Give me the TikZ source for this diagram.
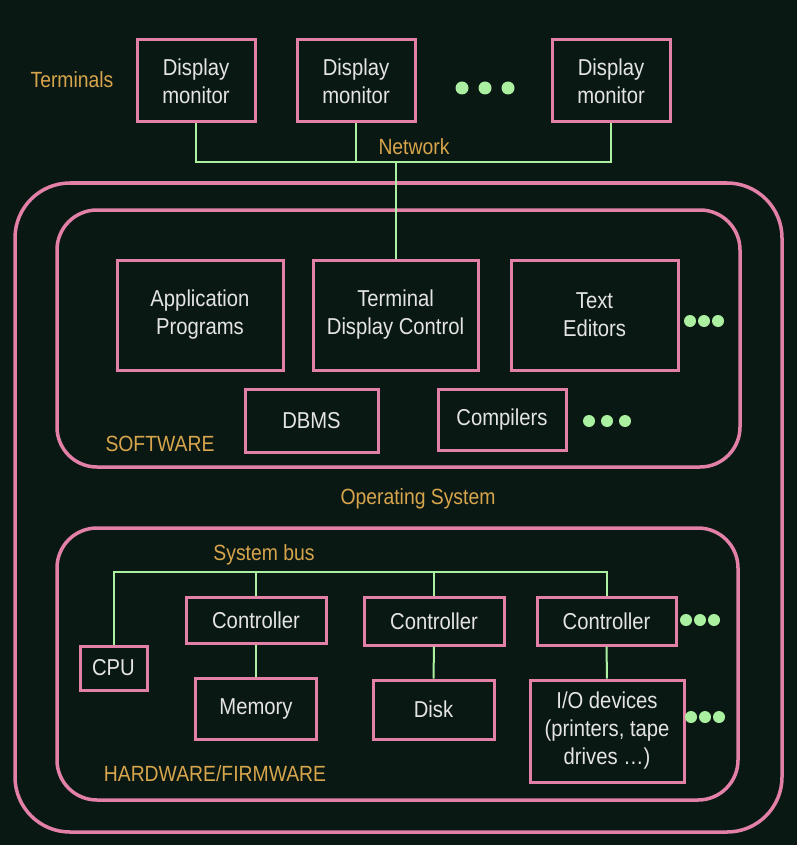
\documentclass[tikz,border=0pt]{standalone}
\usepackage{fontspec}
\setmainfont{Liberation Sans}[FakeStretch=0.88]
\begin{document}
\begin{tikzpicture}[x=1pt,y=-1pt,
  pinkline/.style={draw={rgb,255:red,226;green,128;blue,168}},
  box/.style={pinkline, line width=3pt, rectangle, inner sep=0pt, align=center,
    text={rgb,255:red,228;green,228;blue,228}, font=\fontsize{23}{28}\selectfont},
  container/.style={pinkline, line width=3.5pt, rectangle, inner sep=0pt},
  lbl/.style={text={rgb,255:red,215;green,165;blue,75}, font=\fontsize{22}{24}\selectfont, inner sep=0pt},
  wire/.style={draw={rgb,255:red,170;green,240;blue,160}, line width=2pt},
  dot/.style={fill={rgb,255:red,170;green,240;blue,160}}
]
\useasboundingbox[fill={rgb,255:red,10;green,24;blue,20}] (0,0) rectangle (797,845);

% containers
\node[container, rounded corners=55, minimum width=767, minimum height=649] (os) at (398.5,507.5) {};
\node[container, rounded corners=40, minimum width=683, minimum height=257] (sw) at (398.5,338.5) {};
\node[container, rounded corners=40, minimum width=681, minimum height=272] (hw) at (397.5,664) {};

% terminals
\node[lbl] (term) at (72,80) {Terminals};
\node[box, minimum width=118, minimum height=82] (dm1) at (196,81) {Display\\monitor};
\node[box, minimum width=118, minimum height=82] (dm2) at (356,81) {Display\\monitor};
\node[box, minimum width=118, minimum height=82] (dm3) at (611,81) {Display\\monitor};
\fill[dot] (462,88) circle (6.5) (485,88) circle (6.5) (508,88) circle (6.5);
\node[lbl] (netlbl) at (414,147) {Network};

% software
\node[box, minimum width=166, minimum height=110] (app) at (200,315) {Application\\Programs};
\node[box, minimum width=165, minimum height=110] (tdc) at (395.5,315) {Terminal\\Display Control};
\node[box, minimum width=167, minimum height=110] (ted) at (594.5,315) {Text\\Editors};
\fill[dot] (690,321) circle (6) (704,321) circle (6) (718,321) circle (6);
\node[box, minimum width=133, minimum height=63] (dbms) at (311.5,420.5) {DBMS};
\node[box, minimum width=128, minimum height=61] (comp) at (502,419.5) {Compilers};
\fill[dot] (589,421) circle (6) (607,421) circle (6) (625,421) circle (6);
\node[lbl] (swlbl) at (160,444) {SOFTWARE};

\node[lbl] (oslbl) at (418,499) {Operating System};

% hardware
\node[lbl] (buslbl) at (264,555) {System bus};
\node[box, minimum width=67, minimum height=44] (cpu) at (113.5,668) {CPU};
\node[box, minimum width=140, minimum height=46] (ctl1) at (256,620) {Controller};
\node[box, minimum width=140, minimum height=48] (ctl2) at (434,621) {Controller};
\node[box, minimum width=139, minimum height=48] (ctl3) at (606.5,621) {Controller};
\fill[dot] (686,620) circle (6) (700,620) circle (6) (714,620) circle (6);
\node[box, minimum width=121, minimum height=61] (mem) at (256,708.5) {Memory};
\node[box, minimum width=121, minimum height=59] (disk) at (433.5,709.5) {Disk};
\node[box, minimum width=154, minimum height=102] (io) at (607,731) {I/O devices\\(printers, tape\\drives \dots)};
\fill[dot] (691,717) circle (6) (705,717) circle (6) (719,717) circle (6);
\node[lbl] (hwlbl) at (215,774) {HARDWARE/FIRMWARE};

% network wiring
\coordinate (nety) at (0,162);
\draw[wire] (dm1.south) |- (dm3.south |- nety) -- (dm3.south);
\draw[wire] (dm2.south) -- (dm2.south |- nety);
\draw[wire] (tdc.north) -- (tdc.north |- nety);

% bus wiring
\coordinate (busy) at (0,572);
\draw[wire] (cpu.north) |- (ctl3.north |- busy) -- (ctl3.north);
\draw[wire] (ctl1.north) -- (ctl1.north |- busy);
\draw[wire] (ctl2.north) -- (ctl2.north |- busy);
\draw[wire] (ctl1.south) -- (mem.north);
\draw[wire] (ctl2.south) -- (disk.north);
\draw[wire] (ctl3.south) -- (io.north);
\end{tikzpicture}
\end{document}
